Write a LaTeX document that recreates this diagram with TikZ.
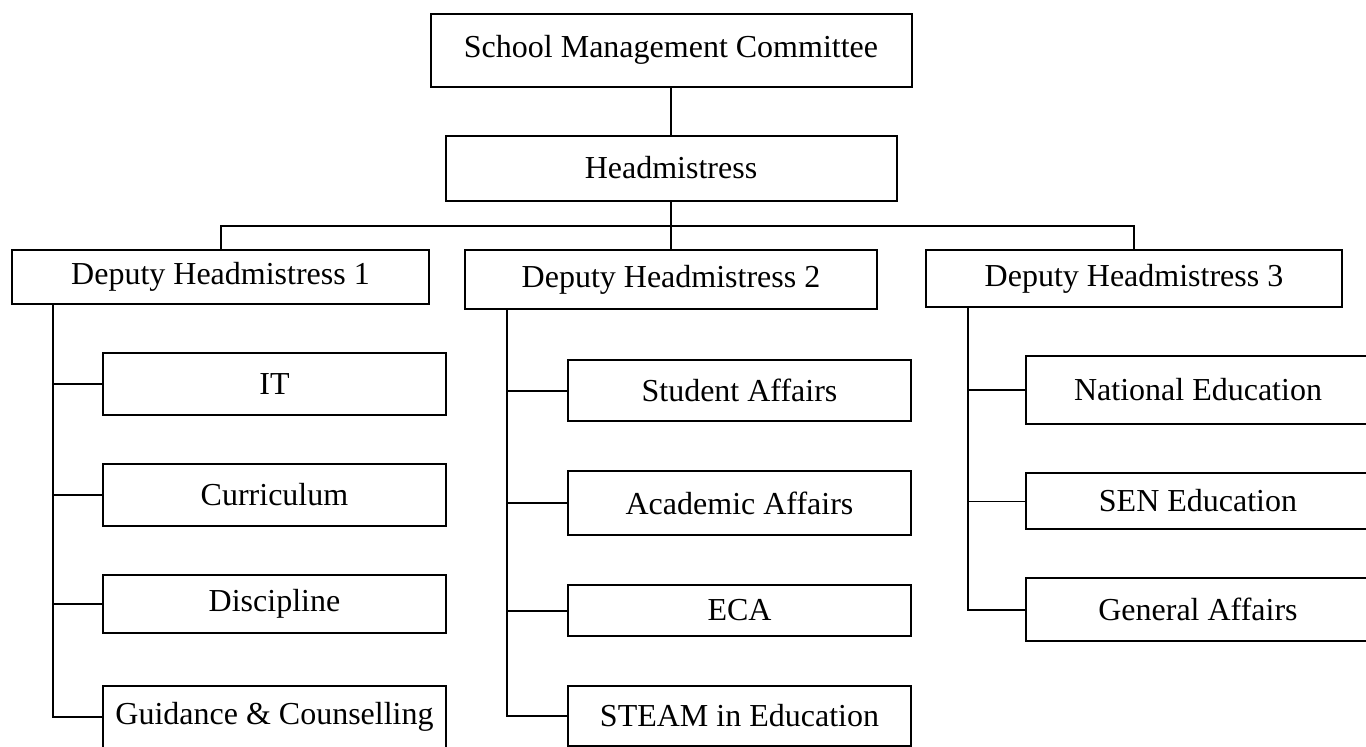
\documentclass[tikz,border=0pt]{standalone}
\usepackage{fontspec}
\setmainfont{Liberation Serif}
\usepackage{tikz}
\usetikzlibrary{positioning}

\begin{document}
\begin{tikzpicture}[x=0.5pt, y=-0.5pt, line width=1pt,
    font=\fontsize{16}{19}\selectfont,
    box/.style n args={2}{draw, inner sep=0pt,
      minimum width=#1*0.5pt, minimum height=#2*0.5pt},
    subbox/.style={box={343}{#1}}]
  \useasboundingbox (0,0) rectangle (1366,746);
  \fill[white] (0,0) rectangle (1366,746);

  % top of the chart
  \node[box={481}{73}] (smc) at (671,50) {School Management Committee};
  \node[box={451}{65}] (head) at (671,168) {Headmistress};
  \node[box={417}{54}] (dep1) at (220.5,277) {Deputy Headmistress 1};
  \node[box={412}{59}] (dep2) at (671,279.5) {Deputy Headmistress 2};
  \node[box={416}{57}] (dep3) at (1134,278.5) {Deputy Headmistress 3};

  % sections under each deputy
  \node[subbox=62] (it)    at (274.5,384) {IT};
  \node[subbox=62] (curr)  at (274.5,495) {Curriculum};
  \node[subbox=58] (disc)  at (274.5,604) {Discipline};
  \node[subbox=62] (guid)  at (274.5,717) {Guidance \& Counselling};

  \node[subbox=61] (stud)  at (739.5,390.5) {Student Affairs};
  \node[subbox=64] (acad)  at (739.5,503) {Academic Affairs};
  \node[subbox=51] (eca)   at (739.5,610.5) {ECA};
  \node[subbox=60] (steam) at (739.5,716) {STEAM in Education};

  \node[box={344}{68}] (natl) at (1198,390) {National Education};
  \node[box={344}{56}] (sen)  at (1198,501) {SEN Education};
  \node[box={344}{63}] (genl) at (1198,609.5) {General Affairs};

  \coordinate (bus) at (0,226);
  \coordinate (spine1) at (53,0);
  \coordinate (spine2) at (507,0);
  \coordinate (spine3) at (968,0);

  % connectors
  \draw (smc) -- (head);
  \draw (head.south) -- (dep2.north);
  \draw (dep1.north) -- (dep1.north |- bus) -| (dep3.north);

  \draw (dep1.south -| spine1) |- (guid.west);
  \foreach \n in {it, curr, disc}
    \draw (spine1 |- \n.west) -- (\n.west);

  \draw (dep2.south -| spine2) |- (steam.west);
  \foreach \n in {stud, acad, eca}
    \draw (spine2 |- \n.west) -- (\n.west);

  \draw (dep3.south -| spine3) |- (genl.west);
  \draw (spine3 |- natl.west) -- (natl.west);
  \draw[line width=0.5pt] (spine3 |- sen.west) -- (sen.west);
\end{tikzpicture}
\end{document}
